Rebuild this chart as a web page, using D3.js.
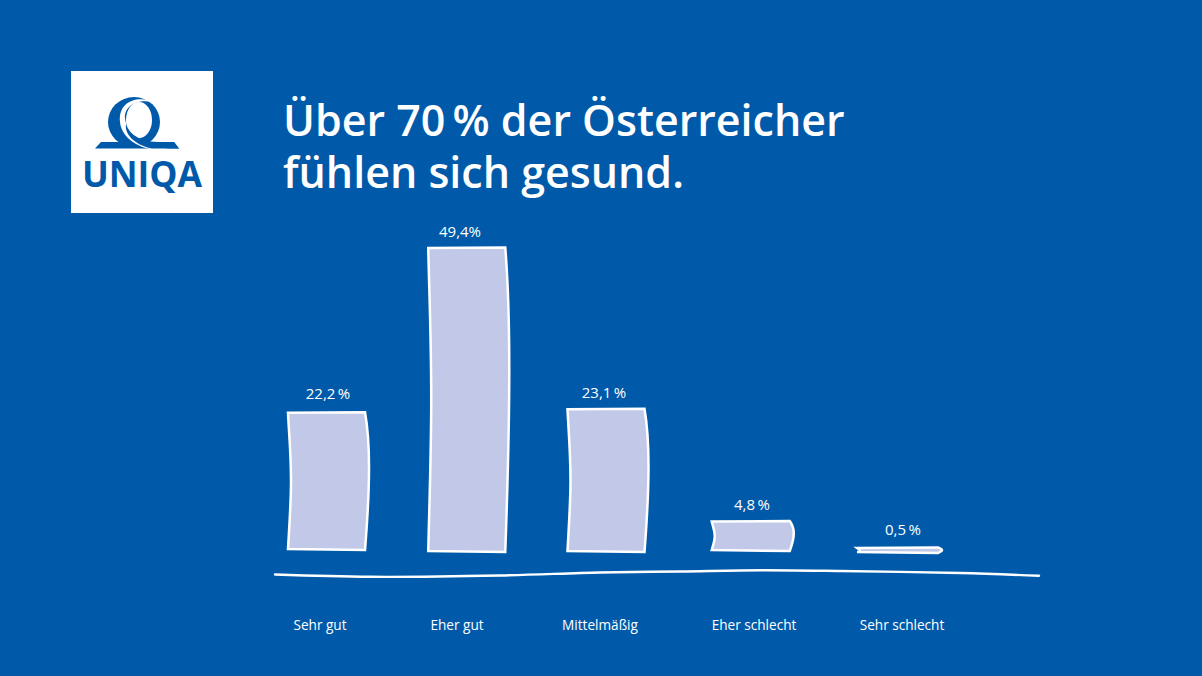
<!DOCTYPE html>
<html>
<head>
<meta charset="utf-8">
<script src="https://cdn.jsdelivr.net/npm/d3@7"></script>
<style>
  html, body { margin: 0; padding: 0; background: #005aa9; }
  svg { display: block; }
  text { font-family: "Open Sans", sans-serif; fill: #fff; }
</style>
</head>
<body>
<svg id="drawing_region"></svg>
<script>
const categories = ['Sehr gut', 'Eher gut', 'Mittelmäßig', 'Eher schlecht', 'Sehr schlecht'];
const values = [22.2, 49.4, 23.1, 4.8, 0.5];
const valueLabels = ['22,2\u2009%', '49,4%', '23,1\u2009%', '4,8\u2009%', '0,5\u2009%'];
const titleLines = ['Über 70\u2009% der Österreicher', 'fühlen sich gesund.'];
// the hand drawn axis line as [px, px]
const groundLine = [[275, 574.5], [370, 576.8], [500, 575.5], [600, 572.5], [680, 571.5], [762, 570.3], [840, 571], [960, 573], [1039, 575.8]];

const width = 1202, height = 676;

const svg = d3.select('#drawing_region')
    .attr('width', width)
    .attr('height', height);

svg.append('rect')
    .attr('width', width)
    .attr('height', height)
    .attr('fill', '#005aa9');

const x = d3.scaleBand()
    .domain(categories)
    .range([287, 934])
    .paddingInner(0.4515)
    .paddingOuter(0);

const y = d3.scaleLinear()
    .domain([0, 49.4])
    .range([551, 248]);

// the bars are sketchy and not evenly spaced, so each one gets a small nudge
const nudge = [1, -1, -4, -2, 1];
const extraWidth = [0, 0, 0, 1, 4];
const topOffset = [-2, 0, 0, 0, 0];
const bottomOffset = [-1, 1, 1, 0, 2];
const labelGap = [14, 11, 11, 12, 13];
const labelCenter = [328, 460, 604, 752, 903];
const tickCenter = [320, 457, 600, 754, 902];

function barPath(d, i) {
    const x0 = x(categories[i]) + nudge[i];
    const x1 = x0 + x.bandwidth() + extraWidth[i];
    const top = y(d) + topOffset[i];
    const bot = y(0) + bottomOffset[i];
    const h = bot - top;
    const p = d3.path();
    p.moveTo(x0, top);
    p.lineTo(x1 - 1, top - 0.5);
    p.bezierCurveTo(x1 + 1.5, top + h * 0.1, x1 + 3, top + h * 0.25, x1 + 3, top + h * 0.4);
    p.bezierCurveTo(x1 + 3, top + h * 0.65, x1 + 0.5, top + h * 0.85, x1 - 1, bot);
    p.lineTo(x0, bot - 1);
    p.bezierCurveTo(x0 + 1.5, top + h * 0.8, x0 + 3, top + h * 0.65, x0 + 3, top + h * 0.5);
    p.bezierCurveTo(x0 + 3, top + h * 0.3, x0 + 1, top + h * 0.15, x0, top);
    p.closePath();
    return p.toString();
}

svg.append('g')
    .selectAll('path')
    .data(values)
    .enter()
    .append('path')
    .attr('d', barPath)
    .attr('fill', '#c2c9e8')
    .attr('stroke', '#fff')
    .attr('stroke-width', 2.5);

svg.append('g')
    .selectAll('text')
    .data(values)
    .enter()
    .append('text')
    .attr('x', (d, i) => labelCenter[i])
    .attr('y', (d, i) => y(d) + topOffset[i] - labelGap[i])
    .attr('text-anchor', 'middle')
    .attr('font-size', 15)
    .attr('font-weight', 500)
    .text((d, i) => valueLabels[i]);

const line = d3.line().curve(d3.curveCatmullRom);
svg.append('path')
    .attr('d', line(groundLine))
    .attr('fill', 'none')
    .attr('stroke', '#fff')
    .attr('stroke-width', 2.4)
    .attr('stroke-linecap', 'round');

// category labels through a real axis, without the line and tick marks
const xAxis = d3.axisBottom(x).tickSize(0).tickPadding(0);
const axisG = svg.append('g')
    .attr('transform', 'translate(0, 620)')
    .call(xAxis);
axisG.select('.domain').remove();
axisG.selectAll('.tick')
    .attr('transform', (d, i) => `translate(${tickCenter[i]}, 0)`);
axisG.selectAll('.tick text')
    .attr('fill', '#fff')
    .style('font-family', '"Open Sans", sans-serif')
    .style('font-size', '13.6px')
    .style('font-weight', 500);

// title, one text with a tspan per line
svg.append('text')
    .attr('font-size', 43)
    .attr('font-weight', 600)
    .selectAll('tspan')
    .data(titleLines)
    .enter()
    .append('tspan')
    .attr('x', 283)
    .attr('y', (d, i) => 136 + i * 52)
    .text(d => d);

// logo
const logo = svg.append('g');
logo.append('rect')
    .attr('x', 71)
    .attr('y', 71)
    .attr('width', 142)
    .attr('height', 142)
    .attr('fill', '#fff');
logo.append('path')
    .attr('d', 'M101,142 L174,142 L179,148.5 L95,148.5 Z')
    .attr('fill', '#005aa9');
logo.append('ellipse')
    .attr('cx', 134)
    .attr('cy', 122)
    .attr('rx', 26)
    .attr('ry', 25)
    .attr('fill', '#005aa9');
logo.append('ellipse')
    .attr('cx', 139)
    .attr('cy', 120)
    .attr('rx', 13)
    .attr('ry', 18)
    .attr('fill', '#fff');
logo.append('path')
    .attr('d', 'M158,104 C140,94 118,100 120,122 C121,135 134,146 150,149 L170,149 C148,146 126,134 125,118 C124,104 142,97 158,104 Z')
    .attr('fill', '#fff');
logo.append('path')
    .attr('d', 'M126,124 C130,136 142,142 160,142 L174,142 L179,148.5 L152,148.5 C138,146 124,136 126,124 Z')
    .attr('fill', '#005aa9');
logo.append('text')
    .attr('x', 142)
    .attr('y', 187)
    .attr('text-anchor', 'middle')
    .attr('font-size', 35.5)
    .attr('font-weight', 700)
    .style('fill', '#005aa9')
    .text('UNIQA');
</script>
</body>
</html>
